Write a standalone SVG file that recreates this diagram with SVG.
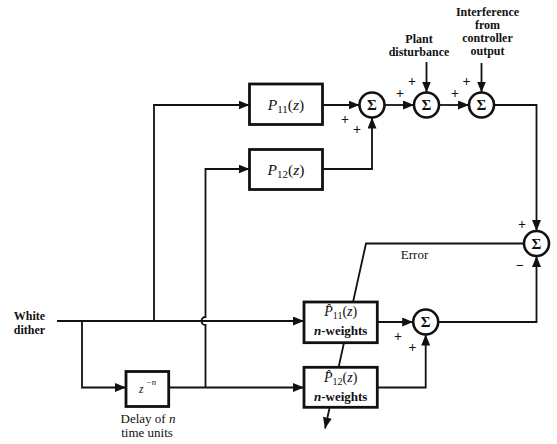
<svg xmlns="http://www.w3.org/2000/svg" width="557" height="444" viewBox="0 0 557 444">
<defs>
<marker id="ah" markerUnits="userSpaceOnUse" markerWidth="11" markerHeight="9" refX="11" refY="4.5" orient="auto">
<path d="M0,0 L11,4.5 L0,9 z" fill="#111"/>
</marker>
<style>
.c{fill:none;stroke:#111;stroke-width:1.8;marker-end:url(#ah)}
.b{fill:#fff;stroke:#111;stroke-width:2.8}
.s{fill:#fff;stroke:#111;stroke-width:2.6}
text{font-family:"Liberation Serif","Times New Roman",serif;fill:#111}
.sg{font-size:15px;font-weight:bold;text-anchor:middle}
.pl{font-size:14px;font-weight:bold}
.lb{font-size:12px;font-weight:bold;text-anchor:middle}
.bx{font-size:15.5px;text-anchor:middle}
.hx{font-size:14px;text-anchor:middle}
.nw{font-size:13px;font-weight:bold;text-anchor:middle}
.it{font-style:italic}
</style>
</defs>
<rect width="557" height="444" fill="#fff"/>
<g id="connectors">
<path class="c" d="M57,321 H304"/>
<path class="c" d="M154,321 V105 H249.5"/>
<path class="c" d="M82,321 V387.5 H126"/>
<path class="c" d="M168.7,387.5 H304"/>
<path class="c" d="M205.5,387.5 V325 A4,4 0 0 1 205.5,317 V169 H249.5"/>
<path class="c" d="M322.5,105 H359.5"/>
<path class="c" d="M322.5,169 H372 V117.5"/>
<path class="c" d="M384.5,105 H414"/>
<path class="c" d="M439,105 H469"/>
<path class="c" d="M426.5,62 V92.5"/>
<path class="c" d="M481.5,63 V92.5"/>
<path class="c" d="M494,105 H536.5 V231"/>
<path class="c" d="M377.3,322 H413.2"/>
<path class="c" d="M377.3,387.5 H425.7 V334.5"/>
<path class="c" d="M438.2,322 H536.5 V256"/>
<path class="c" d="M524,243.5 H366 L325,428.5"/>
</g>
<g id="p11">
<rect class="b" x="249.5" y="84" width="73" height="40.5"/>
<text class="bx" x="286" y="109.5"><tspan class="it">P</tspan><tspan font-size="11" dy="3">11</tspan><tspan dy="-3">(</tspan><tspan class="it">z</tspan>)</text>
</g>
<g id="p12">
<rect class="b" x="249.5" y="149.5" width="73" height="40"/>
<text class="bx" x="286" y="174.5"><tspan class="it">P</tspan><tspan font-size="11" dy="3">12</tspan><tspan dy="-3">(</tspan><tspan class="it">z</tspan>)</text>
</g>
<g id="sum1">
<circle class="s" cx="372" cy="105" r="12.5"/>
<text class="sg" x="372" y="110">Σ</text>
<text class="pl" x="341" y="124">+</text>
<text class="pl" x="353" y="134">+</text>
</g>
<g id="sum2">
<circle class="s" cx="426.5" cy="105" r="12.5"/>
<text class="sg" x="426.5" y="110">Σ</text>
<text class="pl" x="396" y="98">+</text>
<text class="pl" x="408" y="86">+</text>
</g>
<g id="sum3">
<circle class="s" cx="481.5" cy="105" r="12.5"/>
<text class="sg" x="481.5" y="110">Σ</text>
<text class="pl" x="451" y="98">+</text>
<text class="pl" x="462.5" y="86">+</text>
</g>
<g id="sum4">
<circle class="s" cx="536.5" cy="243.5" r="12.5"/>
<text class="sg" x="536.5" y="248.5">Σ</text>
<text class="pl" x="518" y="229">+</text>
<text class="pl" x="516" y="270">−</text>
</g>
<g id="sum5">
<circle class="s" cx="425.7" cy="322" r="12.5"/>
<text class="sg" x="425.7" y="327">Σ</text>
<text class="pl" x="394" y="341">+</text>
<text class="pl" x="408.5" y="352">+</text>
</g>
<g id="hp11">
<rect class="b" x="304" y="302" width="73.3" height="40.7"/>
<text class="hx" x="340.7" y="316"><tspan class="it">P̂</tspan><tspan font-size="10" dy="2.5">11</tspan><tspan dy="-2.5">(</tspan><tspan class="it">z</tspan>)</text>
<text class="nw" x="340.7" y="335"><tspan class="it">n</tspan>-weights</text>
</g>
<g id="hp12">
<rect class="b" x="304" y="367.3" width="73.3" height="40"/>
<text class="hx" x="340.7" y="382"><tspan class="it">P̂</tspan><tspan font-size="10" dy="2.5">12</tspan><tspan dy="-2.5">(</tspan><tspan class="it">z</tspan>)</text>
<text class="nw" x="340.7" y="401"><tspan class="it">n</tspan>-weights</text>
</g>
<g id="delay">
<rect class="b" x="126" y="371.5" width="42.7" height="35"/>
<text x="139" y="393" font-size="11.5" class="it">z</text>
<text x="146" y="385" font-size="8.5" class="it">−n</text>
<text x="148" y="423" font-size="13" text-anchor="middle">Delay of <tspan class="it">n</tspan></text>
<text x="147" y="437" font-size="13" text-anchor="middle">time units</text>
</g>
<g id="labels">
<text class="lb" x="29.5" y="320" font-size="13">White</text>
<text class="lb" x="29.5" y="333.5" font-size="13">dither</text>
<text class="lb" x="419" y="42.5">Plant</text>
<text class="lb" x="419" y="55.5">disturbance</text>
<text class="lb" x="487.5" y="16">Interference</text>
<text class="lb" x="487.5" y="29">from</text>
<text class="lb" x="487.5" y="42">controller</text>
<text class="lb" x="487.5" y="55">output</text>
<text x="414.5" y="259" font-size="13" text-anchor="middle">Error</text>
</g>
</svg>
